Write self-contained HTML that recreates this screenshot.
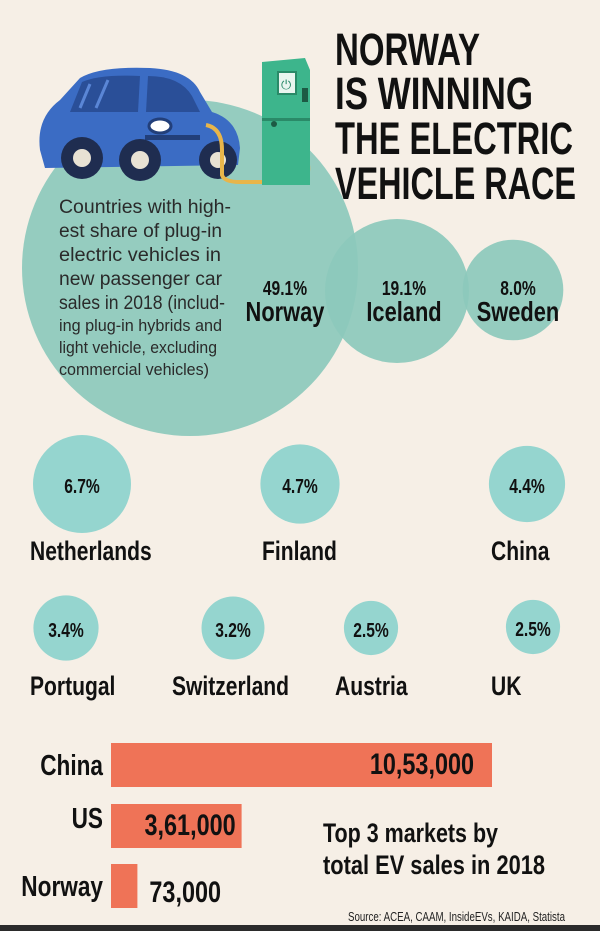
<!DOCTYPE html>
<html><head><meta charset="utf-8"><style>
html,body{margin:0;padding:0;background:#f6efe6;}
svg{display:block;}
text{font-family:"Liberation Sans Narrow","Liberation Sans",sans-serif;}
.b{font-weight:bold;fill:#111;}
.d{fill:#2a2a2a;}
</style></head><body>
<svg id="chart" width="600" height="931" viewBox="0 0 600 931">
<rect x="0" y="0" width="600" height="931" fill="#f6efe6"/>
<g id="circles"></g>
<g>
 <path d="M40 150 Q36 118 60 100 L80 78 Q100 66 150 68 Q190 70 200 92 L212 112 Q238 120 240 148 L238 165 L45 168 Z" fill="#3b6cc4"/>
 <path d="M82 82 Q100 74 140 76 L138 112 L70 112 Z" fill="#2a4f98"/>
 <path d="M148 76 Q180 76 192 96 L200 112 L146 112 Z" fill="#2a4f98"/>
 <path d="M90 84 L80 108 M108 80 L96 108" stroke="#5a86d6" stroke-width="3"/>
 <rect x="145" y="135" width="55" height="5" fill="#223f7a"/>
 <ellipse cx="160" cy="126" rx="11" ry="7" fill="#fff" stroke="#223f7a" stroke-width="3"/>
 <circle cx="82" cy="158" r="21" fill="#1f2d50"/><circle cx="82" cy="158" r="9" fill="#e8e2d4"/>
 <circle cx="140" cy="160" r="21" fill="#1f2d50"/><circle cx="140" cy="160" r="9" fill="#e8e2d4"/>
 <circle cx="218" cy="160" r="19" fill="#1f2d50"/><circle cx="218" cy="160" r="8" fill="#e8e2d4"/>
 <path d="M206 125 Q222 128 222 150 L222 175 Q224 182 240 182 L295 182 Q310 180 308 165 L306 100" stroke="#e8b54a" stroke-width="4" fill="none"/>
</g>
<g>
 <path d="M262 62 L305 58 L310 70 L310 185 L262 185 Z" fill="#3db58c"/>
 <rect x="262" y="118" width="48" height="3" fill="#2a8a68"/>
 <rect x="278" y="72" width="18" height="22" fill="#e9f5ef" stroke="#2a8a68" stroke-width="2"/>
 <text x="281" y="89" font-size="13" fill="#2a8a68" data-keep="1">⏻</text>
 <rect x="302" y="88" width="6" height="14" fill="#1d5a44"/>
 <circle cx="274" cy="124" r="3" fill="#1d5a44"/>
</g>
<g>
 <text class="b" x="335" y="65" font-size="45" textLength="145" lengthAdjust="spacingAndGlyphs">NORWAY</text>
 <text class="b" x="335" y="109" font-size="45" textLength="198" lengthAdjust="spacingAndGlyphs">IS WINNING</text>
 <text class="b" x="335" y="154" font-size="45" textLength="238" lengthAdjust="spacingAndGlyphs">THE ELECTRIC</text>
 <text class="b" x="335" y="199" font-size="45" textLength="241" lengthAdjust="spacingAndGlyphs">VEHICLE RACE</text>
</g>
<g font-size="19" class="d">
 <text class="d" x="59" y="213" textLength="172" lengthAdjust="spacingAndGlyphs">Countries with high-</text>
 <text class="d" x="59" y="237" textLength="163" lengthAdjust="spacingAndGlyphs">est share of plug-in</text>
 <text class="d" x="59" y="261" textLength="162" lengthAdjust="spacingAndGlyphs">electric  vehicles in</text>
 <text class="d" x="59" y="285" textLength="163" lengthAdjust="spacingAndGlyphs">new  passenger car</text>
 <text class="d" x="59" y="309" textLength="166" lengthAdjust="spacingAndGlyphs">sales in 2018 (includ-</text>
 <text class="d" x="59" y="331" font-size="17" textLength="163" lengthAdjust="spacingAndGlyphs">ing plug-in hybrids and</text>
 <text class="d" x="59" y="353" font-size="17" textLength="158" lengthAdjust="spacingAndGlyphs">light vehicle, excluding</text>
 <text class="d" x="59" y="375" font-size="17" textLength="150" lengthAdjust="spacingAndGlyphs">commercial vehicles)</text>
</g>
<g id="labels"></g>
<g id="bars"></g>
<text class="b" x="323" y="842" font-size="27" textLength="175" lengthAdjust="spacingAndGlyphs">Top 3 markets by</text>
<text class="b" x="323" y="874" font-size="27" textLength="222" lengthAdjust="spacingAndGlyphs">total EV sales in 2018</text>
<text x="348" y="921" font-size="13" fill="#222" textLength="217" lengthAdjust="spacingAndGlyphs">Source: ACEA, CAAM, InsideEVs, KAIDA, Statista</text>
<rect x="0" y="925" width="600" height="6" fill="#2b2b2b"/>
</svg>
<script>
const countries = ["Norway","Iceland","Sweden","Netherlands","Finland","China","Portugal","Switzerland","Austria","UK"];
const shares = [49.1,19.1,8.0,6.7,4.7,4.4,3.4,3.2,2.5,2.5];
const barCountries = ["China","US","Norway"];
const barValues = [1053000,361000,73000];
const barLabels = ["10,53,000","3,61,000","73,000"];

const NS="http://www.w3.org/2000/svg";
function mk(tag,attrs,parent){const e=document.createElementNS(NS,tag);for(const k in attrs)e.setAttribute(k,attrs[k]);parent.appendChild(e);return e;}
function condense(t){const L=t.getComputedTextLength();t.setAttribute('textLength',(L*0.78).toFixed(1));t.setAttribute('lengthAdjust','spacingAndGlyphs');}
const slots=[[190,268],[397,291],[513,290],[82,484],[300,484],[527,484],[66,628],[233,628],[371,628],[533,627]];
const nameSlots=[[285,321,"middle"],[404,321,"middle"],[518,321,"middle"],[30,560,"start"],[262,560,"start"],[491,560,"start"],[30,695,"start"],[172,695,"start"],[335,695,"start"],[491,695,"start"]];
function rScale(v,i){
  if(i==0) return 168*Math.sqrt(v/49.1);
  if(i<3) return 72*Math.sqrt(v/19.1)*(i==2?1.08:1);
  return 49*Math.pow(v/6.7,0.6);
}
const cg=document.getElementById('circles'), lg=document.getElementById('labels');
shares.forEach((v,i)=>{
  const [cx,cy]=slots[i];
  const c=mk('circle',{cx:cx,cy:cy,r:rScale(v,i).toFixed(1),fill:i<3?'#8cc9bc':'#95d5cf','fill-opacity':i<3?0.92:1},cg);
  
  
  const big=i<3;
  const [nx,ny,anc]=nameSlots[i];
  const pt=mk('text',{x:big?nx:cx,y:big?ny-26:cy+9,'font-size':20,'text-anchor':'middle',class:'b'},lg);
  pt.textContent=v.toFixed(1)+'%';
  
  
  condense(pt);
  const nt=mk('text',{x:nx,y:ny,'font-size':big?28:27,'text-anchor':anc,class:'b'},lg);
  nt.textContent=countries[i];
  
  
  condense(nt);
});
const bg=document.getElementById('bars');
const x0=111, xScale=v=>v*381/1053000;
const rowY=[743,804,864], bh=44;
barValues.forEach((v,i)=>{
  const w=xScale(v);
  const r=mk('rect',{x:x0,y:rowY[i],width:w.toFixed(1),height:bh,fill:'#ef7357'},bg);
  
  
  const l=mk('text',{x:103,y:rowY[i]+(i==1?24:32),'font-size':29,'text-anchor':'end',class:'b'},bg);
  l.textContent=barCountries[i];
  
  
  condense(l);
  const inside=w>100;
  const t=mk('text',{x:inside?x0+w-6:x0+w+12,y:rowY[i]+(i==2?38:31),'font-size':30,'text-anchor':inside?'end':'start',class:'b'},bg);
  t.textContent=barLabels[i];
  
  
  condense(t);
  if(inside && i==0) t.setAttribute('x',x0+w-18);
});
</script>
</body></html>
